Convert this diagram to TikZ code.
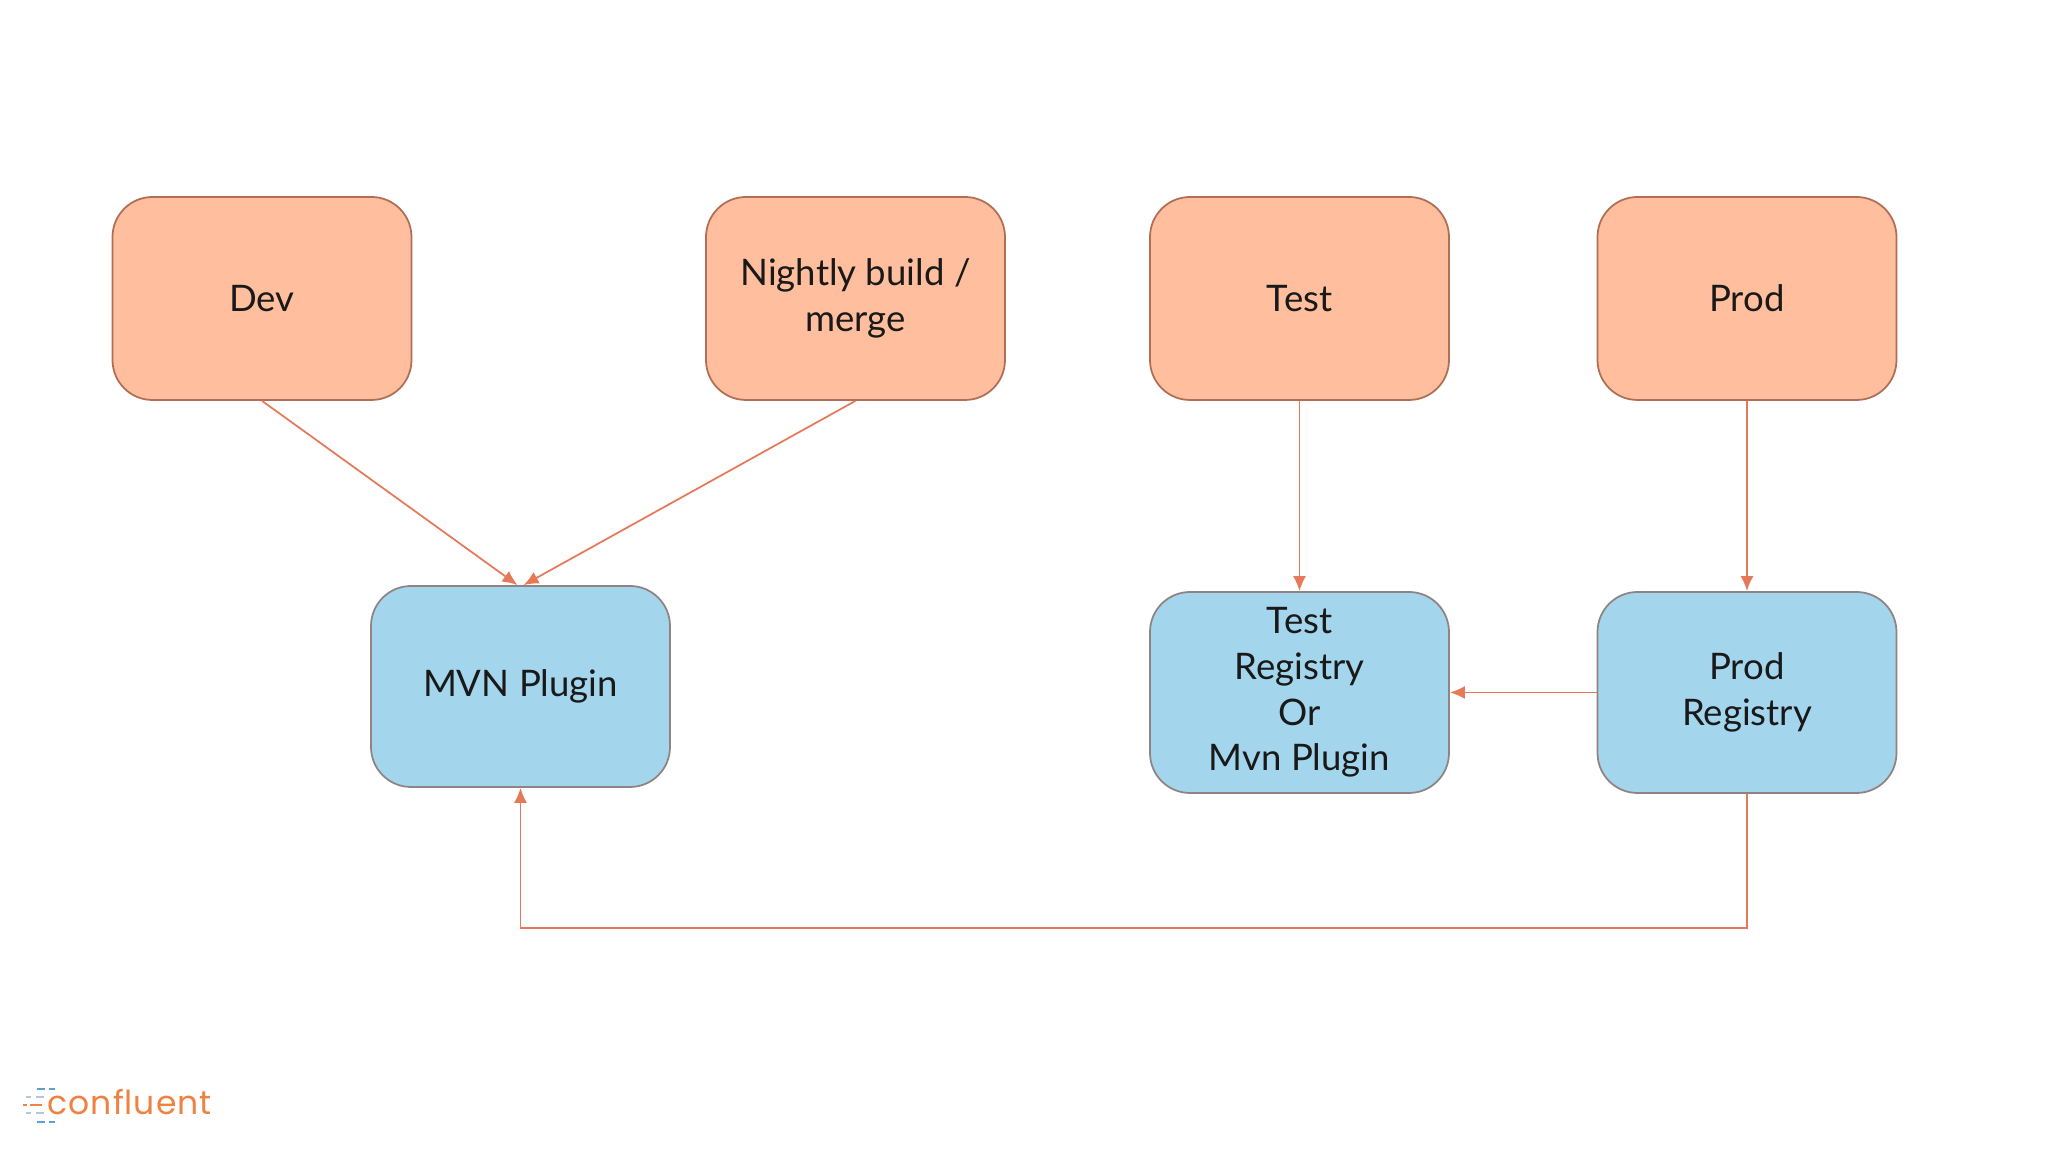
\documentclass[tikz,border=0pt]{standalone}
\usepackage{fontspec}
\usepackage{tikz}
\usetikzlibrary{arrows.meta,positioning}
\setmainfont{Lato}
\newfontfamily\logofont[LetterSpace=3]{Poppins}
\definecolor{stagefill}{HTML}{FFBE9D}
\definecolor{stageline}{HTML}{B06E55}
\definecolor{regfill}{HTML}{A3D5EC}
\definecolor{regline}{HTML}{8F8482}
\definecolor{linkcol}{HTML}{E5795A}
\definecolor{logoorange}{HTML}{EE8241}
\definecolor{logoblue}{HTML}{5B9FD4}
\definecolor{logogray}{HTML}{B4C6D8}

\begin{document}
\begin{tikzpicture}[
    stage/.style={draw=stageline, fill=stagefill, line width=0.5pt, rounded corners=0.4cm, minimum width=2.99cm, minimum height=2.03cm, align=center, inner sep=0pt, text=black!90, font=\fontsize{10.4}{13}\selectfont},
    reg/.style={stage, draw=regline, fill=regfill},
    link/.style={draw=linkcol, line width=0.5pt, -{Latex[length=1.5mm,width=1.3mm]}},
    logobar/.style={line width=0.7pt}
]
\useasboundingbox (0,0) rectangle (20.48,11.52);

\node[stage] (dev) at (2.62,8.535) {Dev};
\node[stage] (nightly) at (8.555,8.535) {Nightly build /\\merge};
\node[stage] (test) at (12.995,8.535) {Test};
\node[stage] (prod) at (17.47,8.535) {Prod};

\node[reg, minimum height=2.01cm] (mvn) at (5.205,4.655) {MVN Plugin};
\node[reg, minimum height=2.01cm] (testreg) at (12.995,4.595) {Test\\Registry\\Or\\Mvn Plugin};
\node[reg, minimum height=2.01cm] (prodreg) at (17.47,4.595) {Prod\\Registry};

\draw[link] (dev.south) -- ([xshift=-0.03cm]mvn.north);
\draw[link] (nightly.south) -- ([xshift=0.03cm]mvn.north);
\draw[link] (test.south) -- (testreg.north);
\draw[link] (prod.south) -- (prodreg.north);
\draw[link] (prodreg.west) -- (testreg.east);
\draw[link] (prodreg.south) -- ++(0,-1.34) -| (mvn.south);

% logo
\node[anchor=base west, inner sep=0pt, text=logoorange, font=\logofont\fontsize{9.4}{11}\selectfont] (logotext) at (0.47,0.37) {confluent};
\draw[logobar, logoblue] (0.37,0.63) -- (0.45,0.63) (0.49,0.63) -- (0.55,0.63);
\draw[logobar, logogray] (0.26,0.55) -- (0.31,0.55) (0.36,0.55) -- (0.44,0.55);
\draw[logobar, logoorange] (0.23,0.47) -- (0.27,0.47) (0.30,0.47) -- (0.42,0.47);
\draw[logobar, logogray] (0.26,0.39) -- (0.31,0.39) (0.36,0.39) -- (0.44,0.39);
\draw[logobar, logoblue] (0.37,0.30) -- (0.45,0.30) (0.49,0.30) -- (0.55,0.30);

\end{tikzpicture}
\end{document}
